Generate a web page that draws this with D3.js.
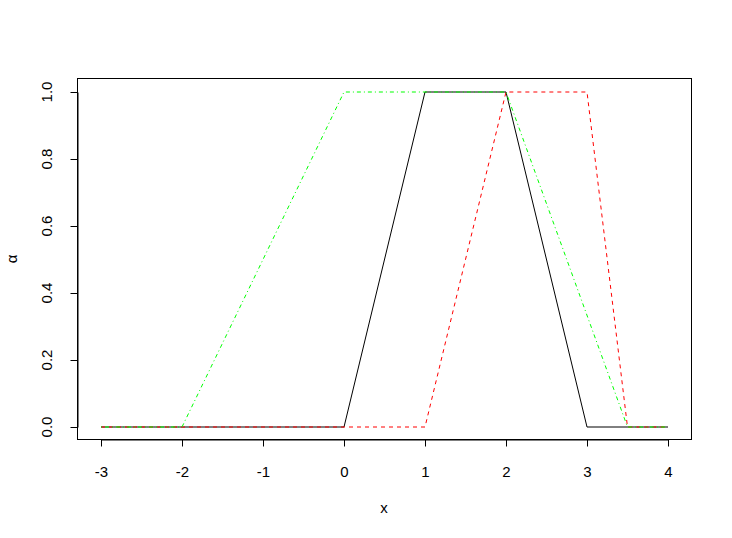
<!DOCTYPE html>
<html><head><meta charset="utf-8">
<script src="https://cdn.jsdelivr.net/npm/d3@7"></script>
<style>body{margin:0;background:#fff}svg{display:block}text{font-family:"Liberation Sans",Arial,sans-serif;font-size:15px;fill:#000}</style>
</head><body>
<svg id="c" width="732" height="538"></svg>
<script>
const xTicks = [-3,-2,-1,0,1,2,3,4];
const xTickLabels = ["-3","-2","-1","0","1","2","3","4"];
const yTicks = [0,0.2,0.4,0.6,0.8,1.0];
const yTickLabels = ["0.0","0.2","0.4","0.6","0.8","1.0"];
const blackX = [-3,0,1,2,3,4];
const blackY = [0,0,1,1,0,0];
const redX = [-3,1,2,3,3.5,4];
const redY = [0,0,1,1,0,0];
const greenX = [-3,-2,0,2,3.5,4];
const greenY = [0,0,1,1,0,0];

const svg = d3.select("#c");
const x = d3.scaleLinear().domain([-3,4]).range([101,668]);
const y = d3.scaleLinear().domain([0,1]).range([427,92]);
const L=77.5,R=691.5,T=78.5,B=439.5;

const series = [
  {xs:blackX, ys:blackY, color:"#000000", dash:null},
  {xs:redX, ys:redY, color:"#FF0000", dash:"4,4"},
  {xs:greenX, ys:greenY, color:"#00FF00", dash:"1,3,4,3"}
];
const line = d3.line().x(d=>x(d[0])).y(d=>y(d[1]));
series.forEach(s=>{
  svg.append("path").attr("d", line(s.xs.map((v,i)=>[v,s.ys[i]])))
    .attr("fill","none").attr("stroke",s.color).attr("stroke-width",1)
    .attr("stroke-dasharray",s.dash);
});

svg.append("rect").attr("x",L).attr("y",T).attr("width",R-L).attr("height",B-T)
  .attr("fill","none").attr("stroke","#000").attr("stroke-width",1);

const xa = svg.append("g").attr("transform",`translate(0,${B})`)
  .call(d3.axisBottom(x).tickValues(xTicks).tickSize(7).tickSizeOuter(0).tickFormat((d,i)=>xTickLabels[i]));
xa.selectAll("text").attr("dy",null).attr("y",37);
const ya = svg.append("g").attr("transform",`translate(${L},0)`)
  .call(d3.axisLeft(y).tickValues(yTicks).tickSize(7).tickSizeOuter(0).tickFormat(()=>""));
ya.selectAll("text").remove();
[xa,ya].forEach(a=>{a.select(".domain").attr("stroke","#000");a.selectAll("line").attr("stroke","#000");
  a.selectAll("text").attr("font-family","Liberation Sans, Arial, sans-serif").attr("font-size",15).attr("fill","#000");});
svg.append("g").selectAll("text").data(yTicks).join("text")
  .attr("transform",d=>`translate(52,${y(d)}) rotate(-90)`)
  .attr("text-anchor","middle").text((d,i)=>yTickLabels[i]);
svg.append("text").attr("x",384).attr("y",513).attr("text-anchor","middle").text("x");
svg.append("text").attr("transform","translate(17,259) rotate(-90)").attr("text-anchor","middle").text("α");
</script>
</body></html>
